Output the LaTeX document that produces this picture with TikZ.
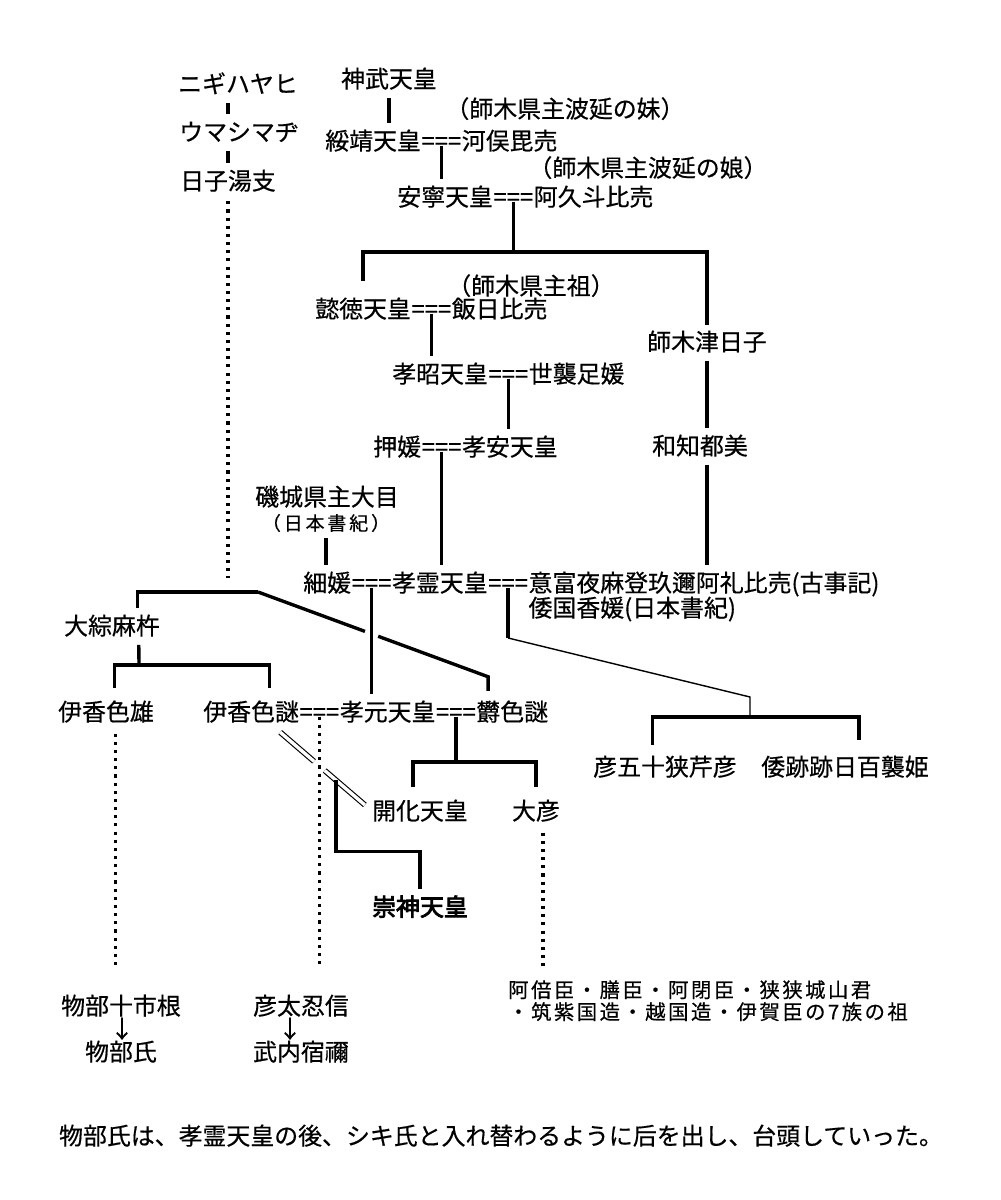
\documentclass[tikz,border=0pt]{standalone}
\usepackage{fontspec}
\usepackage{tikz}
\usetikzlibrary{positioning, calc}
\newfontfamily\jp{Noto Sans CJK JP}[FakeBold=0.5]
\newfontfamily\jpbold{Noto Sans CJK JP}[FakeBold=3.5]
\newfontfamily\jpspaced{Noto Sans CJK JP}[LetterSpace=15, FakeBold=0.4]
\newfontfamily\jpclan{Noto Sans CJK JP}[LetterSpace=12, FakeBold=0.4]

\tikzset{
    person/.style={inner sep=0pt, text height=14pt, text depth=3pt,
        font=\jp\fontsize{17pt}{20pt}\selectfont},
    source/.style={inner sep=0pt, font=\jpspaced\fontsize{13.5pt}{15pt}\selectfont},
    clan/.style={inner sep=0pt, align=left, font=\jpclan\fontsize{14.5pt}{15.6pt}\selectfont},
    kin/.style={line width=2.4pt},
    drop/.style={kin, shorten <=4pt, shorten >=5pt},
    issue/.style={kin, shorten >=5pt},
    thin/.style={line width=1pt},
    faint/.style={line width=2.2pt, dash pattern=on 2.2pt off 3.6pt},
    wedlock/.style={double, line width=0.8pt, double distance=2.4pt},
}

\begin{document}
\begin{tikzpicture}[x=0.025cm, y=-0.025cm]
    \fill [white] (0,0) rectangle (1000,1200);
    \useasboundingbox (0,0) rectangle (1000,1200);

    % Nigihayahi line
    \node [person] (nigi) at (238,85) {ニギハヤヒ};
    \node [person] (umashi) at (239,133) {ウマシマヂ};
    \node [person] (hikoyu) at (228,182) {日子湯支};
    \draw [drop] (hikoyu |- nigi.south) -- (hikoyu |- umashi.north);
    \draw [drop] (hikoyu |- umashi.south) -- (hikoyu.north);

    % Jimmu to Annei
    \node [person] (jimmu) at (389,80) {神武天皇};
    \node [person, anchor=west] (suizei) at (325,142) {綏靖天皇};
    \node [person, right=0pt of suizei] (m1) {===};
    \node [person, right=0pt of m1] (kawamata) {河俣毘売};
    \node [person] (note1) at (565,110) {（師木県主波延の妹）};
    \node [person, anchor=west] (annei) at (397,198) {安寧天皇};
    \node [person, right=0pt of annei] (m2) {===};
    \node [person, right=0pt of m2] (akuto) {阿久斗比売};
    \node [person] (note2) at (648,169) {（師木県主波延の娘）};
    \draw [drop] (jimmu.south) -- (jimmu |- suizei.north);
    \draw [issue] ([yshift=3pt]m1.base) -- (m1 |- annei.north);

    % Itoku and Shikitsuhiko
    \coordinate (fork1) at (m2 |- 0,252);
    \node [person, anchor=west] (itoku) at (315,310) {懿徳天皇};
    \node [person, right=0pt of itoku] (m3) {===};
    \node [person, right=0pt of m3] (iihi) {飯日比売};
    \node [person] (note3) at (531,287) {（師木県主祖）};
    \node [person] (shikitsu) at (707,343) {師木津日子};
    \draw [kin] ([yshift=3pt]m2.base) -- (fork1);
    \draw [kin, shorten <=12pt, shorten >=4pt] (itoku.north) |- (fork1) -| (shikitsu.north);

    % Kosho and Koan
    \node [person, anchor=west] (kosho) at (392,375) {孝昭天皇};
    \node [person, right=0pt of kosho] (m4) {===};
    \node [person, right=0pt of m4] (yoso) {世襲足媛};
    \node [person, anchor=west] (oshi) at (373,448) {押媛};
    \node [person, right=0pt of oshi] (m5) {===};
    \node [person, right=0pt of m5] (koan) {孝安天皇};
    \node [person] (wachi) at (700,447) {和知都美};
    \draw [issue] ([yshift=3pt]m3.base) -- (m3 |- kosho.north);
    \draw [issue] ([yshift=3pt]m4.base) -- (m4 |- koan.north);
    \draw [drop] (shikitsu.south) -- (shikitsu |- wachi.north);

    % Korei and his wives
    \node [person] (shiki) at (327,498) {磯城県主大目};
    \node [source] (shikinote) at (326,523) {（日本書紀）};
    \node [person, anchor=west] (hosohime) at (303,584) {細媛};
    \node [person, right=0pt of hosohime] (m6) {===};
    \node [person, right=0pt of m6] (korei) {孝霊天皇};
    \node [person, right=0pt of korei] (m7) {===};
    \node [person, right=0pt of m7] (oho) {意富夜麻登玖邇阿礼比売(古事記)};
    \node [person, anchor=west] (wakuni) at (oho.west |- 0,609) {倭国香媛(日本書紀)};
    \draw [issue] ([yshift=3pt]m5.base) -- (m5 |- korei.north);
    \draw [drop] (shikitsu |- wachi.south) -- (shikitsu |- oho.north);
    \draw [drop] (shikinote.south) -- (shikinote |- hosohime.north);

    % Children of Korei and Yamato-no-Kunika
    \coordinate (k1) at (m7 |- 0,638);
    \coordinate (k2) at (750,717);
    \node [person] (isa) at (665,768) {彦五十狭芹彦};
    \node [person] (yamato) at (845,768) {倭跡跡日百襲姫};
    \draw [kin] ([yshift=3pt]m7.base) -- (k1);
    \draw [thin] (k1) -- ($(k2)+(0,-20)$) -- (k2);
    \draw [kin, shorten <=8pt, shorten >=11pt] ([xshift=-9pt]isa.north) |- (k2) -| ([xshift=10pt]yamato.north);

    % Omi line and Kogen
    \node [person] (omi) at (112,627) {大綜麻杵};
    \node [person] (ikashikao) at (106,713) {伊香色雄};
    \node [person, anchor=west] (ikashikome) at (203,713) {伊香色謎};
    \node [person, right=0pt of ikashikome] (m8) {===};
    \node [person, right=0pt of m8] (kogen) {孝元天皇};
    \node [person, right=0pt of kogen] (m9) {===};
    \node [person, right=0pt of m9] (utsu) {欝色謎};

    \coordinate (f1) at (hikoyu |- 0,592);
    \coordinate (f2) at (258,592);
    \coordinate (u1) at ($(utsu.north west)+(12,-24)$);
    \coordinate (m6d) at (m6 |- kogen.north);
    \coordinate (x1) at (intersection of f2--u1 and m6--m6d);
    \draw [faint, shorten <=5pt, shorten >=10pt] (hikoyu.south) -- (f1);
    \draw [kin, shorten <=5pt] ([xshift=18pt]omi.north) |- (f2);
    \draw [kin, shorten >=5pt] (f2) -- (x1);
    \draw [kin, shorten <=5pt] (x1) -- (u1) -- ++(0,14);
    \draw [issue] ([yshift=3pt]m6.base) -- (m6d);

    \coordinate (f3) at (139,665);
    \draw [kin, shorten <=4pt] ([xshift=19pt]omi.south) -- (f3);
    \draw [kin, shorten <=9pt, shorten >=9pt] ([xshift=6pt]ikashikao.north) |- (f3) -| ([xshift=13pt]ikashikome.north);

    % Kaika, Ohiko, Sujin
    \node [person] (kaika) at (420,812) {開化天皇};
    \node [person] (ohiko) at (536,812) {大彦};
    \node [person, font=\jpbold\fontsize{17pt}{20pt}\selectfont] (sujin) at (420,908) {崇神天皇};
    \coordinate (f4) at (m9 |- 0,762);
    \draw [kin] ([yshift=3pt]m9.base) -- (f4);
    \draw [kin, shorten <=9pt, shorten >=9pt] ([xshift=-5pt]kaika.north) |- (f4) -| (ohiko.north);

    \node [person] (hikofuto) at (301,1007) {彦太忍信};
    \coordinate (d1) at ($(ikashikome.south east)+(-19,7)$);
    \coordinate (d2) at ($(kaika.west)+(-7,-7)$);
    \coordinate (m8d) at (m8 |- hikofuto.north);
    \coordinate (x2) at (intersection of d1--d2 and m8--m8d);
    \coordinate (d3) at ($(d1)!0.66!(d2)$);
    \draw [wedlock, shorten >=5pt] (d1) -- (x2);
    \draw [wedlock, shorten <=5pt] (x2) -- (d2);
    \draw [issue] (d3) |- ($(sujin.north)+(0,-44)$) -- (sujin.north);

    % Later descendants
    \node [person] (tochine) at (121,1007) {物部十市根};
    \node [person] (arrow1) at (122,1030) {↓};
    \node [person] (monobe) at (121,1053) {物部氏};
    \node [person] (arrow2) at (290,1030) {↓};
    \node [person] (takeuchi) at (301,1053) {武内宿禰};
    \node [clan, anchor=north west] (clans) at (508,980) {阿倍臣・膳臣・阿閉臣・狭狭城山君\\・筑紫国造・越国造・伊賀臣の7族の祖};

    \coordinate (c1) at ([xshift=7pt]ikashikao.south);
    \coordinate (c2) at ([xshift=5pt]ohiko.south);
    \draw [faint, shorten <=6pt, shorten >=19pt] (c1) -- (c1 |- tochine.north);
    \draw [faint, shorten >=19pt] ([yshift=3pt]m8.base) -- (m8d);
    \draw [faint, shorten <=6pt, shorten >=10pt] (c2) -- (c2 |- clans.north);

    % Summary
    \node [person] (summary) at (501,1137) {物部氏は、孝霊天皇の後、シキ氏と入れ替わるように后を出し、台頭していった。};
\end{tikzpicture}
\end{document}
